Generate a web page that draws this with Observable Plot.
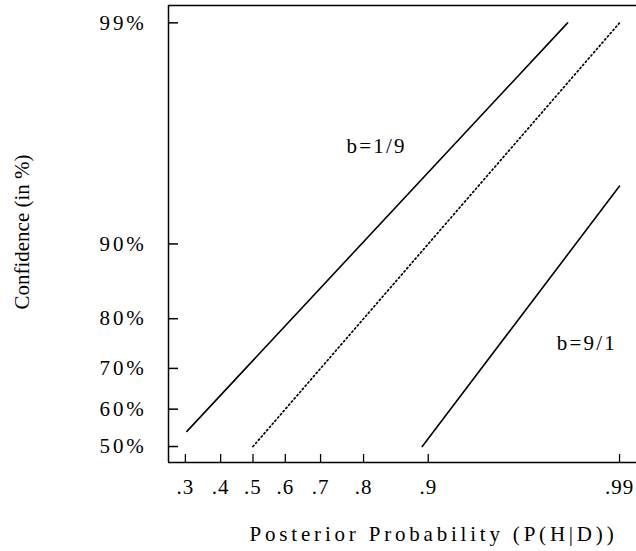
<!DOCTYPE html>
<html><head><meta charset="utf-8">
<script src="https://cdn.jsdelivr.net/npm/d3@7"></script>
<script src="https://cdn.jsdelivr.net/npm/@observablehq/plot@0.6"></script>
<style>body{margin:0;background:#fff}</style>
</head><body><div id="chart"></div>
<script>
// ---- data (probabilities; both axes use a log-odds scale) ----
const xTickValues = [0.3, 0.4, 0.5, 0.6, 0.7, 0.8, 0.9, 0.99];
const xTickLabels = [".3", ".4", ".5", ".6", ".7", ".8", ".9", ".99"];
const yTickValues = [0.5, 0.6, 0.7, 0.8, 0.9, 0.99];
const yTickLabels = ["50%", "60%", "70%", "80%", "90%", "99%"];
const xDomain = [0.2575, 0.9919];
const yDomain = [0.4568, 0.9917];

const seriesNames = ["b=1/9", "b=1", "b=9/1"];
const seriesDotted = [false, true, false];
const seriesPosterior = [[0.304, 0.981], [0.5, 0.99], [0.893, 0.99]];
const seriesConfidence = [[0.541, 0.99], [0.5, 0.99], [0.5, 0.944]];

const labelTexts = ["b=1/9", "b=9/1"];
const labelPosterior = [0.825, 0.985];
const labelConfidence = [0.963, 0.753];

const xTitle = "Posterior Probability (P(H|D))";
const yTitle = "Confidence (in %)";

// ---- build tables ----
const logit = p => Math.log(p / (1 - p));
const rows = seriesNames.flatMap((s, i) =>
  seriesPosterior[i].map((p, j) => ({series: s, dotted: seriesDotted[i], p, c: seriesConfidence[i][j]})));
const labels = labelTexts.map((t, i) => ({t, p: labelPosterior[i], c: labelConfidence[i]}));
const xLab = new Map(xTickValues.map((v, i) => [logit(v), xTickLabels[i]]));
const yLab = new Map(yTickValues.map((v, i) => [logit(v), yTickLabels[i]]));

const W = 636, H = 551, mL = 168, mR = 0, mT = 5, mB = 89;
const plotW = W - mL - mR, plotH = H - mT - mB;

const chart = Plot.plot({
  width: W, height: H,
  marginLeft: mL, marginRight: mR, marginTop: mT, marginBottom: mB,
  style: {fontFamily: "'Liberation Serif', 'Times New Roman', serif", fontSize: "21px", color: "black", background: "white"},
  x: {type: "linear", domain: xDomain.map(logit), axis: null},
  y: {type: "linear", domain: yDomain.map(logit), axis: null},
  marks: [
    // frame lines
    Plot.ruleY([yDomain[1]], {y: logit, stroke: "black", strokeWidth: 1.5}),
    Plot.ruleY([yDomain[0]], {y: logit, stroke: "black", strokeWidth: 1.5}),
    Plot.ruleX([xDomain[0]], {x: logit, stroke: "black", strokeWidth: 1.5}),
    // inward tick marks
    Plot.tickY(yTickValues, {y: logit, stroke: "black", strokeWidth: 1.5, insetRight: plotW - 10}),
    Plot.tickX(xTickValues, {x: logit, stroke: "black", strokeWidth: 1.3, insetTop: plotH - 8}),
    // tick labels
    Plot.axisX(xTickValues.map(logit), {anchor: "bottom", tickSize: 0, tickPadding: 17, fontSize: 21, tickFormat: d => xLab.get(d)}),
    Plot.axisY(yTickValues.map(logit), {anchor: "left", tickSize: 0, tickPadding: 22, fontSize: 21, tickFormat: d => yLab.get(d)}),
    // lines
    Plot.line(rows.filter(d => !d.dotted), {x: d => logit(d.p), y: d => logit(d.c), z: "series", stroke: "black", strokeWidth: 1.6}),
    Plot.line(rows.filter(d => d.dotted), {x: d => logit(d.p), y: d => logit(d.c), z: "series", stroke: "black", strokeWidth: 1.7, strokeDasharray: "1.4,2.8"}),
    // line labels
    Plot.text(labels, {x: d => logit(d.p), y: d => logit(d.c), text: "t", fontSize: 21, fill: "black"}),
    // axis titles
    Plot.text([xTitle], {frameAnchor: "bottom", textAnchor: "middle", dx: 31, dy: 78, fontSize: 21, fill: "black"}),
    Plot.text([yTitle], {frameAnchor: "left", textAnchor: "middle", rotate: -90, dx: -146, dy: -2, fontSize: 21, fill: "black"})
  ]
});
document.getElementById("chart").append(chart);

// letter spacing similar to the original typesetting
d3.select(chart).selectAll("text").each(function() {
  const t = this.textContent;
  if (t === xTitle) this.style.letterSpacing = "3.8px";
  else if (labelTexts.includes(t)) this.style.letterSpacing = "2.2px";
  else if (yTickLabels.includes(t)) this.style.letterSpacing = "2.8px";
  else if (xTickLabels.includes(t)) this.style.letterSpacing = "1px";
});
</script>
</body></html>
